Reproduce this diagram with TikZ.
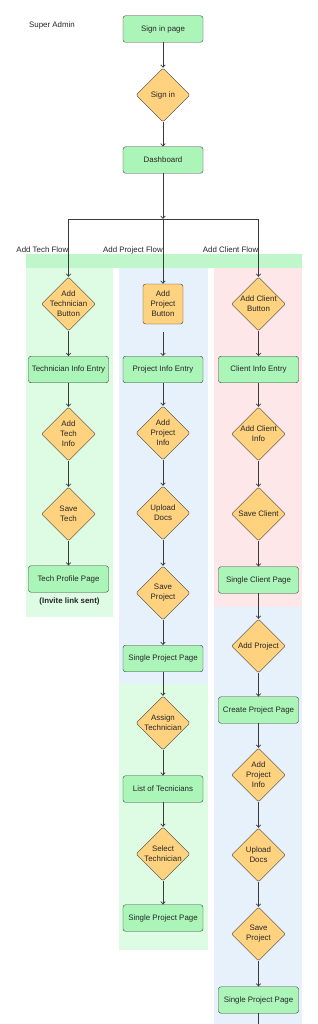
\documentclass[tikz,border=0pt]{standalone}
\usepackage{fontspec}
\setmainfont{Liberation Sans}
\usetikzlibrary{shapes.geometric, arrows.meta}

\definecolor{pagegreen}{HTML}{ABF5B8}
\definecolor{decorange}{HTML}{FFD280}
\definecolor{bandgreen}{HTML}{C0F7CA}
\definecolor{lanegreen}{HTML}{DDFCE3}
\definecolor{laneblue}{HTML}{E7F1FB}
\definecolor{lanepink}{HTML}{FDE7E9}
\definecolor{edgegray}{HTML}{3A3A3A}
\newcommand{\flowfont}{\fontsize{7.9}{10}\selectfont}

\begin{document}
\begin{tikzpicture}[
    x=1pt, y=-1pt,
    page node/.style={rectangle, rounded corners=2.5pt, draw=edgegray, fill=pagegreen, minimum width=80pt, minimum height=26.5pt, inner sep=1pt, font=\flowfont, text=black!85},
    dec node/.style={diamond, rounded corners=1.5pt, draw=edgegray, fill=decorange, minimum width=54pt, minimum height=54pt, inner sep=0pt},
    dec text/.style={align=center, font=\flowfont, inner sep=0pt, text=black!85},
    btn node/.style={rectangle, rounded corners=2.5pt, draw=edgegray, fill=decorange, minimum size=40pt, inner sep=0pt, align=center, font=\flowfont, text=black!85},
    flow edge/.style={draw=edgegray, line width=0.7pt, -{Straight Barb[length=2.5pt, width=4.5pt]}},
    plain edge/.style={draw=edgegray, line width=0.7pt},
    flow label/.style={font=\flowfont, anchor=east, inner sep=0pt, text=black!85}
]
\useasboundingbox (0,0) rectangle (318,1024);

% swimlane backgrounds
\fill[bandgreen] (26,254) rectangle (302,268);
\fill[lanegreen] (26,268) rectangle (113,617);
\fill[laneblue]  (119,268) rectangle (208,684);
\fill[lanegreen] (119,684) rectangle (208,950);
\fill[lanepink]  (214,268) rectangle (302,607);
\fill[laneblue]  (214,607) rectangle (302,1024);

% sign in
\node[font=\flowfont, text=black!85] (SA) at (52,25) {Super Admin};
\node[page node] (S1) at (163,29) {Sign in page};
\node[dec node, label={[dec text]center:Sign in}] (S2) at (163,95) {};
\node[page node] (S3) at (163,160) {Dashboard};

\coordinate (JT) at (68.5,219);
\coordinate (JP) at (163,219);
\coordinate (JC) at (258.5,219);

\node[flow label] (LT) at (68.5,250) {Add Tech Flow};
\node[flow label] (LP) at (163,250) {Add Project Flow};
\node[flow label] (LC) at (258.5,250) {Add Client Flow};

% tech flow
\node[dec node, label={[dec text]center:Add\\Technician\\Button}] (T1) at (68.5,304) {};
\node[page node] (T2) at (68.5,369.5) {Technician Info Entry};
\node[dec node, label={[dec text]center:Add\\Tech\\Info}] (T3) at (68.5,434) {};
\node[dec node, label={[dec text]center:Save\\Tech}] (T4) at (68.5,514) {};
\node[page node] (T5) at (68.5,579) {Tech Profile Page};
\node[font=\flowfont\bfseries, text=black!85] (TN) at (69.5,601) {(Invite link sent)};

% project flow
\node[btn node] (P1) at (163,304) {Add\\Project\\Button};
\node[page node] (P2) at (163,369.5) {Project Info Entry};
\node[dec node, label={[dec text]center:Add\\Project\\Info}] (P3) at (163,433) {};
\node[dec node, label={[dec text]center:Upload\\Docs}] (P4) at (163,513) {};
\node[dec node, label={[dec text]center:Save\\Project}] (P5) at (163,593) {};
\node[page node] (P6) at (163,658.5) {Single Project Page};
\node[dec node, label={[dec text]center:Assign\\Technician}] (P7) at (163,723) {};
\node[page node] (P8) at (163,789) {List of Tecnicians};
\node[dec node, label={[dec text]center:Select\\Technician}] (P9) at (163,854) {};
\node[page node] (P10) at (163,918) {Single Project Page};

% client flow
\node[dec node, label={[dec text]center:Add Client\\Button}] (C1) at (258.5,304) {};
\node[page node] (C2) at (258.5,369.5) {Client Info Entry};
\node[dec node, label={[dec text]center:Add Client\\Info}] (C3) at (258.5,434) {};
\node[dec node, label={[dec text]center:Save Client}] (C4) at (258.5,514) {};
\node[page node] (C5) at (258.5,580) {Single Client Page};
\node[dec node, label={[dec text]center:Add Project}] (C6) at (258.5,646) {};
\node[page node] (C7) at (258.5,710) {Create Project Page};
\node[dec node, label={[dec text]center:Add\\Project\\Info}] (C8) at (258.5,775) {};
\node[dec node, label={[dec text]center:Upload\\Docs}] (C9) at (258.5,855) {};
\node[dec node, label={[dec text]center:Save\\Project}] (C10) at (258.5,934) {};
\node[page node] (C11) at (258.5,1000) {Single Project Page};
\coordinate (CEnd) at (258.5,1024);

% connectors
\foreach \a/\b in {S1/S2, S2/S3, T1/T2, T2/T3, T3/T4, T4/T5, P2/P3, P3/P4, P4/P5, P5/P6, P6/P7, P7/P8, P8/P9, P9/P10, C1/C2, C2/C3, C3/C4, C4/C5, C5/C6, C6/C7, C7/C8, C8/C9, C9/C10, C10/C11}
    \draw[flow edge] (\a) -- (\b);

\draw[flow edge] (S3) -- (JP);
\draw[plain edge] (JT) -- (JC);
\draw[flow edge] (JT) -- (T1);
\draw[flow edge] (JP) -- (P1);
\draw[flow edge] (JC) -- (C1);
\draw[flow edge, shorten <=8pt] (P1) -- (P2);
\draw[plain edge] (C11) -- (CEnd);

\end{tikzpicture}
\end{document}
